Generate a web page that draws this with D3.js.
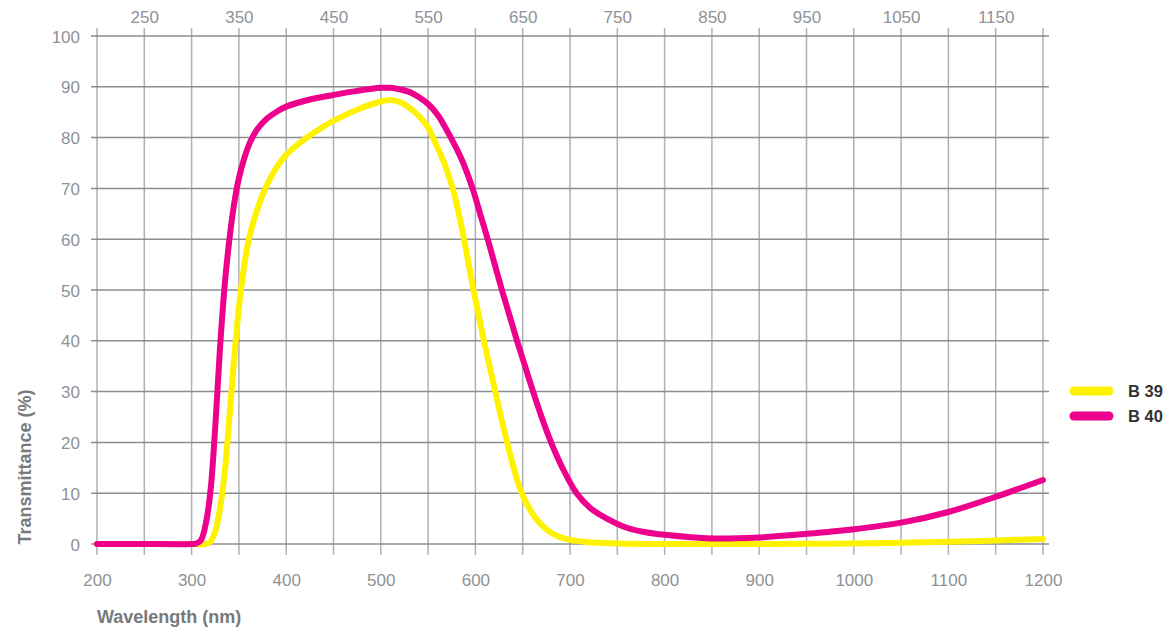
<!DOCTYPE html>
<html><head><meta charset="utf-8">
<script src="https://cdn.jsdelivr.net/npm/d3@7"></script>
<style>body{margin:0;background:#fff;} text{font-family:"Liberation Sans",Arial,sans-serif;}</style>
</head><body><svg id="c" width="1173" height="632"></svg>
<script>
const xTicksBottom = [200,300,400,500,600,700,800,900,1000,1100,1200];
const xTicksTop = [250,350,450,550,650,750,850,950,1050,1150];
const yTicks = [0,10,20,30,40,50,60,70,80,90,100];

const wlB39 = [200,300,315,320,325,330,335,340,345,350,355,360,365,370,375,380,390,400,412,425,437,450,475,500,510,520,530,540,550,555,567,576,582.5,588,593,598,603.5,609,615,621,627,633.5,640.5,649,664,682,700,725,750,800,900,1000,1100,1150,1200];
const valB39 = [0,0,0,0.5,2.5,7,14,25,36.5,46.5,54,59.5,63.2,66.2,68.7,70.8,74.2,76.6,78.6,80.4,81.9,83.3,85.5,87.1,87.4,87.0,85.9,84.3,82.0,80,75,70,65,60,55,50,45,40,35,30,25,20,15,10,5,2,0.8,0.3,0.1,0,0,0.1,0.45,0.7,1.0];

const wlB40 = [200,250,300,305,310,315,320,325,330,335,340,345,350,355,360,365,370,380,390,400,425,450,475,500,510,520,530,540,550,560,574,586,597,605,613,620.5,628,636,644,652.5,661,670,680,692,707,722,739,760,780,800,850,900,950,1000,1050,1100,1150,1200];
const valB40 = [0,0,0,0.1,0.8,4,10.5,23,38.5,51,60,67,72,75.5,78.3,80.3,81.8,83.8,85.1,86.1,87.5,88.4,89.2,89.8,89.8,89.5,89,88,86.6,84.5,80,75.5,70,65,60,55,50,45,40,35,30,25,20,15,10,7,5,3.2,2.3,1.8,1.1,1.3,2.0,2.9,4.2,6.3,9.3,12.6];

const seriesNames = ["B 39","B 40"];
const seriesColors = ["#fff200","#ec008c"];

const svg = d3.select("#c");
const x = d3.scaleLinear().domain([200,1200]).range([97,1043]);
const y = d3.scaleLinear().domain([0,100]).range([544,36]);

const hCol = "#8a8d91", vCol = "#aeb1b5", txt = "#8f9296";

const allX = d3.range(200,1201,50);
svg.append("g").selectAll("line").data(allX).join("line")
  .attr("x1",d=>x(d)).attr("x2",d=>x(d)).attr("y1",28).attr("y2",555)
  .attr("stroke",vCol).attr("stroke-width",1.5);
svg.append("g").selectAll("line").data(yTicks).join("line")
  .attr("x1",91).attr("x2",1049).attr("y1",d=>y(d)).attr("y2",d=>y(d))
  .attr("stroke",hCol).attr("stroke-width",1.5);

const fmt = d3.format("d");
const gBottom = svg.append("g").attr("transform","translate(0,574)")
  .call(d3.axisBottom(x).tickValues(xTicksBottom).tickFormat(fmt).tickSize(0).tickPadding(0));
const gTop = svg.append("g").attr("transform","translate(0,23)")
  .call(d3.axisTop(x).tickValues(xTicksTop).tickFormat(fmt).tickSize(0).tickPadding(0));
const gLeft = svg.append("g").attr("transform","translate(80,0)")
  .call(d3.axisLeft(y).tickValues(yTicks).tickFormat(fmt).tickSize(0).tickPadding(0));
[gBottom,gTop,gLeft].forEach(g=>{
  g.select(".domain").remove();
  g.selectAll("text").attr("fill",txt).style("font-size","17px")
   .style("font-family","'Liberation Sans',Arial,sans-serif");
});
gLeft.selectAll("text").attr("dy","0.36em");

svg.append("text").attr("x",97).attr("y",623).text("Wavelength (nm)")
  .attr("fill","#77797c").style("font-weight","bold").style("font-size","18px");
svg.append("text").attr("transform","translate(31,467) rotate(-90)").attr("text-anchor","middle")
  .text("Transmittance (%)").attr("fill","#77797c").style("font-weight","bold").style("font-size","18px");

const line = d3.line().x(d=>x(d[0])).y(d=>y(d[1])).curve(d3.curveCatmullRom.alpha(0.5));
const data = [d3.zip(wlB39,valB39), d3.zip(wlB40,valB40)];
data.forEach((d,i)=>{
  svg.append("path").datum(d).attr("d",line).attr("fill","none")
    .attr("stroke",seriesColors[i]).attr("stroke-width",6)
    .attr("stroke-linecap","round").attr("stroke-linejoin","round");
});

const lg = svg.append("g");
seriesNames.forEach((n,i)=>{
  const yy = 391 + i*25;
  lg.append("line").attr("x1",1074).attr("x2",1109).attr("y1",yy).attr("y2",yy)
    .attr("stroke",seriesColors[i]).attr("stroke-width",9).attr("stroke-linecap","round");
  lg.append("text").attr("x",1128).attr("y",yy).attr("dy","0.36em").text(n)
    .attr("fill","#333").style("font-weight","bold").style("font-size","16.5px");
});
</script></body></html>
